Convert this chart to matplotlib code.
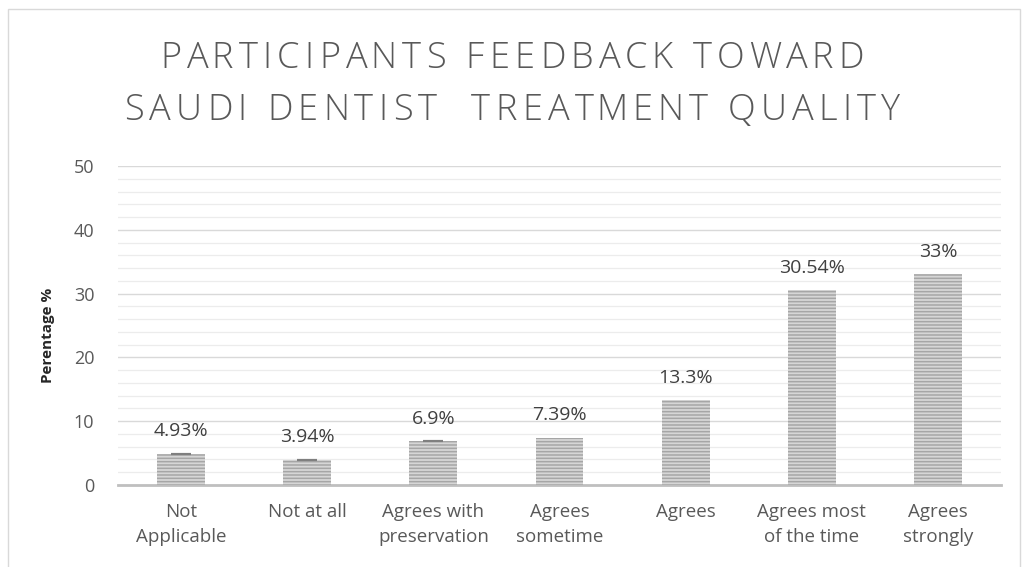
import matplotlib.pyplot as plt
from matplotlib.font_manager import FontProperties
from matplotlib.patches import Rectangle
from matplotlib.ticker import MultipleLocator

categories = [
    "Not\nApplicable",
    "Not at all",
    "Agrees with\npreservation",
    "Agrees\nsometime",
    "Agrees",
    "Agrees most\nof the time",
    "Agrees\nstrongly",
]
values = [4.93, 3.94, 6.9, 7.39, 13.3, 30.54, 33]
value_labels = ["4.93%", "3.94%", "6.9%", "7.39%", "13.3%", "30.54%", "33%"]
title_lines = ["PARTICIPANTS FEEDBACK TOWARD", "SAUDI DENTIST  TREATMENT QUALITY"]

W, H = 1024, 567
GREY = "#595959"

plt.rcParams["font.family"] = ["Open Sans", "DejaVu Sans"]
plt.rcParams["hatch.linewidth"] = 1.1

fig = plt.figure(figsize=(W / 100, H / 100), dpi=100)
fig.patch.set_facecolor("white")
renderer = fig.canvas.get_renderer()

# light frame round the chart
fig.add_artist(Rectangle((8 / W, -0.05), 1012 / W, 1 - 9 / H + 0.05,
                         transform=fig.transFigure, fill=False,
                         edgecolor="#d9d9d9", linewidth=1.0))

ax = fig.add_axes([118 / W, 1 - 485 / H, 883 / W, (485 - 166) / H])
x = list(range(len(categories)))
ax.bar(x, values, width=0.38, color="#d6d6d6", edgecolor="#a6a6a6",
       hatch="-----", linewidth=0, zorder=3)

# short caps on the first three bars
ax.errorbar(x[:3], values[:3], yerr=[0, 0, 0], fmt="none", ecolor="#7f7f7f",
            capsize=7, capthick=1.5, elinewidth=0, zorder=4)

for i, (v, lab) in enumerate(zip(values, value_labels)):
    ax.text(i, v + 2.1, lab, ha="center", va="bottom", fontsize=14,
            color="#404040")

ax.set_xlim(-0.5, len(categories) - 0.5)
ax.set_ylim(0, 50)
ax.yaxis.set_major_locator(MultipleLocator(10))
ax.yaxis.set_minor_locator(MultipleLocator(2))
ax.grid(axis="y", which="major", color="#d9d9d9", linewidth=1.0, zorder=0)
ax.grid(axis="y", which="minor", color="#ececec", linewidth=0.9, zorder=0)
ax.set_axisbelow(True)

ax.set_xticks(x, categories)
for t in ax.get_xticklabels():
    t.set_linespacing(1.5)
ax.tick_params(axis="x", length=0, pad=13, labelsize=13.5, labelcolor=GREY)
ax.tick_params(axis="y", which="both", length=0, pad=17, labelsize=13,
               labelcolor=GREY)
for side in ("top", "right", "left"):
    ax.spines[side].set_visible(False)
ax.spines["bottom"].set_color("#bfbfbf")
ax.spines["bottom"].set_linewidth(2.0)

ax.set_ylabel("Perentage %", fontsize=11, fontweight="bold", color="#262626")
ax.yaxis.set_label_coords(-0.071, 0.47)


def spaced_title(text, y_px, size=26, tracking=5.3):
    """Centre a line of text across the figure with extra letter spacing."""
    prop = FontProperties(family="Open Sans", size=size, weight="light")
    width = lambda s: renderer.get_text_width_height_descent(s, prop, ismath=False)[0]
    total = width(text) + tracking * (len(text) - 1)
    x0 = (W - total) / 2
    for i, ch in enumerate(text):
        if ch == " ":
            continue
        xi = x0 + width(text[:i]) + tracking * i
        fig.text(xi / W, 1 - y_px / H, ch, ha="left", va="center",
                 fontproperties=prop, color=GREY)


spaced_title(title_lines[0], 58)
spaced_title(title_lines[1], 111)

fig.savefig("out.png", dpi=100)
